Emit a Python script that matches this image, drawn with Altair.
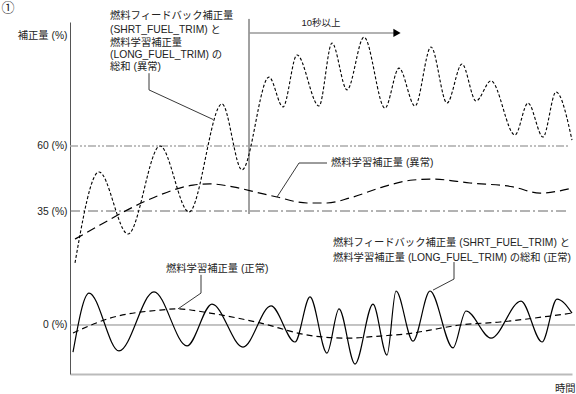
import altair as alt
import pandas as pd

FONT = "Liberation Sans, Noto Sans CJK JP, sans-serif"
FS = 10.3

# ---- series (time units, correction %) ----
ab_sum_t = [5, 29, 58, 90, 119, 152, 172, 199, 213, 227, 249, 262, 277, 294, 315, 329, 345, 361, 377, 392, 406, 421, 445, 458, 473, 486, 502]
ab_sum_v = [20.8, 51.3, 30.5, 60.0, 37.9, 74.1, 52.0, 83.1, 73.1, 90.5, 73.4, 94.5, 78.8, 96.5, 72.7, 86.1, 73.4, 93.2, 74.4, 87.5, 75.1, 81.8, 63.7, 74.4, 63.0, 78.1, 62.0]

ab_long_t = [5, 30, 57, 90, 123, 140, 163, 190, 207, 237, 257, 280, 313, 343, 363, 400, 443, 470, 502]
ab_long_v = [28.8, 33.5, 38.5, 43.6, 46.9, 47.3, 46.3, 44.2, 42.9, 40.9, 40.9, 42.6, 46.3, 48.6, 48.9, 47.6, 46.3, 44.2, 45.9]

nm_sum_t = [3, 19, 49, 84, 117, 142, 173, 201, 225, 240, 257, 269, 285, 303, 317, 326, 343, 360, 383, 396, 421, 451, 472, 487, 502]
nm_sum_v = [-9.1, 10.7, -8.7, 11.1, -7.0, 7.0, -7.4, 6.4, -5.7, 9.4, -9.4, 5.4, -13.1, 7.0, -10.1, 11.4, -5.4, 11.4, -7.7, 4.7, -4.4, 8.0, -5.7, 8.7, 4.0]

nm_long_t = [3, 40, 90, 107, 140, 190, 238, 277, 310, 343, 360, 390, 430, 480, 502]
nm_long_v = [-2.7, 2.3, 5.0, 5.4, 4.0, 0.7, -3.4, -4.4, -3.7, -2.7, -1.7, 0.0, 1.0, 3.0, 4.0]

# reference levels (schematic positions) and their tick labels
y_ticks = [0, 38.21, 60]
y_tick_labels = ["0 (%)", "35 (%)", "60 (%)"]

# event: abnormal state lasting 10 s or more
event_start_t = 179
event_end_t = 325
event_label = "10秒以上"

# annotation texts
ann_texts = [
    "燃料フィードバック補正量",
    "(SHRT_FUEL_TRIM) と",
    "燃料学習補正量",
    "(LONG_FUEL_TRIM) の",
    "総和 (異常)",
    "燃料学習補正量 (異常)",
    "燃料学習補正量 (正常)",
    "燃料フィードバック補正量 (SHRT_FUEL_TRIM) と",
    "燃料学習補正量 (LONG_FUEL_TRIM) の総和 (正常)",
]
ann_t = [40, 40, 40, 40, 40, 261, 96, 263, 263]
ann_v = [103.7, 98.9, 94.4, 90.5, 86.6, 54.3, 18.9, 27.4, 22.4]

# leader lines (group, t, v)
lead_g = ["a", "a", "a", "b", "b", "b", "c", "c", "c", "d", "d", "d"]
lead_t = [79, 79, 143, 257, 229, 207, 131, 131, 108, 384, 384, 363]
lead_v = [84.4, 78.8, 68.9, 54.3, 54.3, 42.9, 16.8, 10.7, 5.4, 21.1, 15.4, 11.7]

X_DOM = [0, 502]
Y_DOM = [-16.425, 101.564]

label_expr = " : ".join(
    f"datum.value == {v} ? '{l}'" for v, l in zip(y_ticks[:-1], y_tick_labels[:-1])
) + f" : '{y_tick_labels[-1]}'"


def X(field="t"):
    return alt.X(f"{field}:Q", scale=alt.Scale(domain=X_DOM, nice=False, zero=False),
                 axis=alt.Axis(values=[0], ticks=False, labels=False, grid=False,
                               domainColor="#bbbbbb", domainWidth=2,
                               title="時間", titleAlign="right", titleBaseline="middle",
                               titleX=505, titleY=14, titleFont=FONT, titleFontSize=FS,
                               titleFontWeight="normal", titleColor="#222222"))


def Y(field="v"):
    return alt.Y(f"{field}:Q", scale=alt.Scale(domain=Y_DOM, nice=False, zero=False),
                 axis=alt.Axis(values=y_ticks, labelExpr=label_expr, ticks=False, grid=False,
                               domainColor="#555555", domainWidth=1,
                               labelFont=FONT, labelFontSize=FS, labelColor="#222222",
                               labelPadding=3,
                               title="補正量 (%)", titleAngle=0, titleAlign="right",
                               titleBaseline="middle", titleX=-3, titleY=13,
                               titleFont=FONT, titleFontSize=FS, titleFontWeight="normal",
                               titleColor="#222222"))


def series(t, v):
    return pd.DataFrame({"t": t, "v": v})


# reference lines
ref_df = pd.DataFrame({"v": y_ticks, "t0": [0, 0, 0], "t1": [505, 498, 498]})
ref0 = alt.Chart(ref_df.iloc[[0]]).mark_rule(color="#888888", strokeWidth=1).encode(
    x=X("t0"), x2="t1:Q", y=Y())
ref35 = alt.Chart(ref_df.iloc[[1]]).mark_rule(color="#666666", strokeWidth=1,
                                              strokeDash=[10, 3, 2, 3]).encode(
    x=X("t0"), x2="t1:Q", y=Y())
ref60 = alt.Chart(ref_df.iloc[[2]]).mark_rule(color="#aaaaaa", strokeWidth=1.6,
                                              strokeDash=[8, 2, 2, 2, 2, 2]).encode(
    x=X("t0"), x2="t1:Q", y=Y())

# event marker
vline = alt.Chart(pd.DataFrame({"t": [event_start_t], "v0": [37.2], "v1": [102.6]})).mark_rule(
    color="#444444", strokeWidth=1).encode(x=X(), y=Y("v0"), y2="v1:Q")
arrow = alt.Chart(pd.DataFrame({"t0": [event_start_t], "t1": [event_end_t], "v": [97.9]})).mark_rule(
    color="#999999", strokeWidth=1.6).encode(x=X("t0"), x2="t1:Q", y=Y())
head = alt.Chart(pd.DataFrame({"t": [event_end_t + 2], "v": [97.9]})).mark_point(
    shape="triangle-right", filled=True, color="#000000", size=70, opacity=1).encode(x=X(), y=Y())
ev_text = alt.Chart(pd.DataFrame({"t": [251], "v": [101.2], "s": [event_label]})).mark_text(
    font=FONT, fontSize=9.5, color="#222222", align="center", baseline="middle").encode(
    x=X(), y=Y(), text="s:N")

# curves
c_ab_sum = alt.Chart(series(ab_sum_t, ab_sum_v)).mark_line(
    color="#000000", strokeWidth=1.1, strokeDash=[3, 2], interpolate="monotone").encode(x=X(), y=Y())
c_ab_long = alt.Chart(series(ab_long_t, ab_long_v)).mark_line(
    color="#000000", strokeWidth=1.2, strokeDash=[9, 5], interpolate="monotone").encode(x=X(), y=Y())
c_nm_sum = alt.Chart(series(nm_sum_t, nm_sum_v)).mark_line(
    color="#000000", strokeWidth=1.2, interpolate="monotone").encode(x=X(), y=Y())
c_nm_long = alt.Chart(series(nm_long_t, nm_long_v)).mark_line(
    color="#000000", strokeWidth=1.2, strokeDash=[6, 4], interpolate="monotone").encode(x=X(), y=Y())

# leaders
lead_df = pd.DataFrame({"g": lead_g, "t": lead_t, "v": lead_v, "o": list(range(len(lead_g)))})
leaders = alt.Chart(lead_df).mark_line(color="#222222", strokeWidth=0.9).encode(
    x=X(), y=Y(), detail="g:N", order="o:Q")

# annotation texts
ann_df = pd.DataFrame({"t": ann_t, "v": ann_v, "s": ann_texts})
ann = alt.Chart(ann_df).mark_text(font=FONT, fontSize=FS, color="#222222", align="left",
                                  baseline="middle").encode(x=X(), y=Y(), text="s:N")

circ = alt.Chart(pd.DataFrame({"t": [-62], "v": [106.3], "s": ["①"]})).mark_text(
    font=FONT, fontSize=13, color="#222222", align="center", baseline="middle").encode(
    x=X(), y=Y(), text="s:N")

chart = alt.layer(
    ref0, ref35, ref60, vline, arrow, head, ev_text,
    c_nm_long, c_nm_sum, c_ab_long, c_ab_sum, leaders, ann, circ
).properties(
    width=502, height=352,
    padding={"left": 70, "top": 22, "right": 4, "bottom": 20},
    autosize="none",
    background="#ffffff",
).configure_view(stroke=None)

chart.save("out.html", embed_options={"renderer": "svg", "actions": False})
